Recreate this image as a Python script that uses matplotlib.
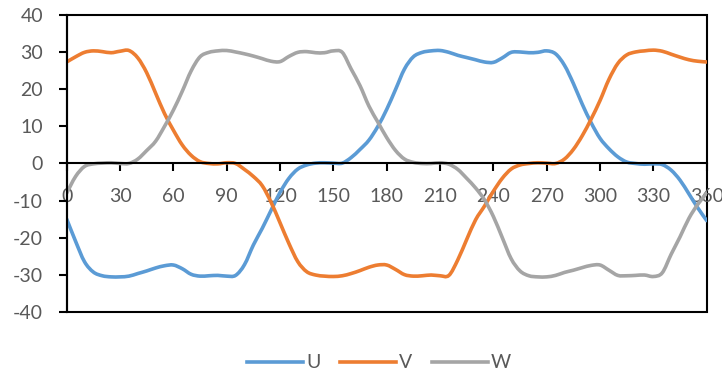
import matplotlib
matplotlib.use("Agg")
import matplotlib.pyplot as plt
from matplotlib.patches import Rectangle, PathPatch
from matplotlib.path import Path
from matplotlib.lines import Line2D
import numpy as np

# Rotor angle in degrees (5-degree steps)
angle = np.arange(0, 361, 5)

# Phase voltages
u = [-15.0, -21.0, -26.5, -29.3, -30.3, -30.6, -30.6, -30.4, -29.7, -29.0,
     -28.2, -27.6, -27.4, -28.4, -29.9, -30.4, -30.3, -30.2, -30.4, -30.2,
     -27.3, -22.0, -17.5, -12.6, -7.8, -4.0, -1.5, -0.4, 0.1, 0.2,
     0.1, 0.1, 1.6, 3.8, 6.3, 10.0, 14.6, 20.0, 25.5, 28.8,
     30.0, 30.4, 30.5, 30.0, 29.2, 28.6, 28.0, 27.4, 27.3, 28.5,
     30.0, 30.1, 29.9, 30.0, 30.4, 29.6, 26.5, 21.6, 16.0, 11.0,
     6.8, 4.0, 1.8, 0.4, 0.0, -0.2, -0.1, -0.3, -1.8, -4.5,
     -8.2, -12.0, -15.4]

v = [27.4, 28.8, 30.0, 30.4, 30.2, 29.9, 30.3, 30.5, 28.5, 24.5,
     19.0, 13.5, 9.0, 5.0, 2.2, 0.5, 0.0, -0.1, 0.2, 0.0,
     -1.6, -3.5, -6.0, -10.5, -16.0, -21.6, -26.5, -29.2, -30.1, -30.4,
     -30.5, -30.3, -29.7, -28.9, -28.0, -27.4, -27.4, -28.6, -30.0, -30.4,
     -30.3, -30.1, -30.3, -30.2, -26.0, -20.5, -15.2, -11.5, -7.5, -4.0,
     -1.5, -0.4, 0.0, 0.2, 0.1, 0.0, 1.2, 3.8, 7.5, 12.0,
     17.0, 22.7, 27.0, 29.3, 30.1, 30.4, 30.6, 30.3, 29.5, 28.7,
     28.0, 27.6, 27.4]

w = [-8.0, -3.5, -0.8, -0.1, 0.1, 0.2, 0.0, 0.0, 1.2, 3.5,
     6.0, 10.0, 14.4, 19.5, 25.0, 28.8, 30.0, 30.4, 30.5, 30.1,
     29.6, 29.0, 28.3, 27.6, 27.5, 28.9, 30.0, 30.2, 29.9, 29.9,
     30.4, 30.0, 25.5, 21.0, 15.5, 11.2, 7.0, 3.5, 1.2, 0.3,
     0.0, 0.0, 0.2, -0.2, -1.6, -4.0, -6.6, -9.8, -14.3, -20.0,
     -25.7, -29.0, -30.3, -30.6, -30.6, -30.2, -29.4, -28.8, -28.1, -27.5,
     -27.4, -28.8, -30.2, -30.3, -30.2, -30.1, -30.5, -29.5, -24.5, -19.8,
     -14.8, -11.0, -8.0]

series_names = ["U", "V", "W"]
series_colors = ["#5B9BD5", "#ED7D31", "#A5A5A5"]
x_ticks = list(range(0, 361, 30))
y_ticks = list(range(-40, 41, 10))

plt.rcParams["font.family"] = ["Lato", "DejaVu Sans"]
plt.rcParams["axes.unicode_minus"] = False
text_color = "#595959"
line_width = 2.6


def smooth_path(xs, ys):
    """Smoothed line through the points as cubic Bezier segments."""
    pts = np.column_stack([np.asarray(xs, float), np.asarray(ys, float)])
    verts = [pts[0]]
    codes = [Path.MOVETO]
    n = len(pts)
    for i in range(n - 1):
        p0 = pts[max(i - 1, 0)]
        p1 = pts[i]
        p2 = pts[i + 1]
        p3 = pts[min(i + 2, n - 1)]
        c1 = p1 + (p2 - p0) / 6.0
        c2 = p2 - (p3 - p1) / 6.0
        verts.extend([c1, c2, p2])
        codes.extend([Path.CURVE4] * 3)
    return Path(verts, codes)


fig = plt.figure(figsize=(7.22, 3.76), dpi=100)
ax = fig.add_axes([0.09238, 0.17101, 0.88643, 0.78830])

handles = []
for name, data, color in zip(series_names, [u, v, w], series_colors):
    patch = PathPatch(smooth_path(angle, data), transform=ax.transData,
                      facecolor="none", edgecolor=color, lw=line_width,
                      capstyle="round", joinstyle="round", zorder=2)
    ax.add_patch(patch)
    handles.append(Line2D([], [], color=color, lw=line_width, label=name))

ax.set_xlim(0, 360)
ax.set_ylim(-40, 40)
ax.set_xticks(x_ticks)
ax.set_yticks(y_ticks)

# Category axis crosses at zero
ax.spines["bottom"].set_position(("data", 0))
ax.spines["top"].set_visible(False)
ax.spines["right"].set_visible(False)
for side in ("left", "bottom"):
    ax.spines[side].set_linewidth(1.5)
    ax.spines[side].set_color("black")

# Plot-area border
ax.add_patch(Rectangle((0, 0), 1, 1, transform=ax.transAxes, fill=False,
                       edgecolor="black", lw=1.5, clip_on=False, zorder=0.5))

ax.tick_params(axis="x", direction="out", length=6, width=1.5, color="black",
               pad=11.5, labelsize=14, labelcolor=text_color)
ax.tick_params(axis="y", direction="out", length=6, width=1.5, color="black",
               pad=11, labelsize=14, labelcolor=text_color)

leg = fig.legend(handles=handles, loc="center", bbox_to_anchor=(0.525, 0.0346),
                 ncol=3, frameon=False, fontsize=14, handlelength=2.9,
                 handletextpad=0.15, columnspacing=1.0)
for text in leg.get_texts():
    text.set_color(text_color)

fig.savefig("out.png", dpi=100, facecolor="white")
